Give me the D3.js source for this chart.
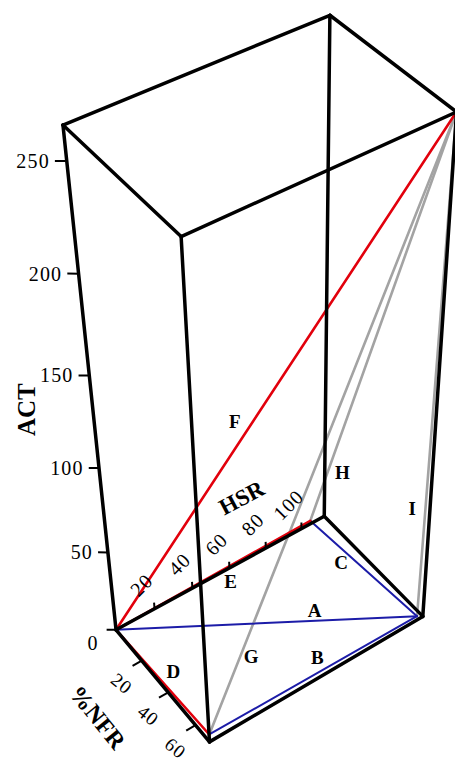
<!DOCTYPE html>
<html>
<head>
<meta charset="utf-8">
<script src="https://cdn.jsdelivr.net/npm/d3@7"></script>
<style>
  body { margin: 0; background: #fff; }
  svg { display: block; }
  text { font-family: "Liberation Serif", "Times New Roman", serif; fill: #000; }
</style>
</head>
<body>
<svg width="455" height="764"></svg>
<script>
// axis ranges and ticks
var hsrDomain = [0, 113];
var nfrDomain = [0, 70];
var actDomain = [0, 265];
var hsrTicks = [20, 40, 60, 80, 100];
var nfrTicks = [20, 40, 60];
var actTicks = [0, 50, 100, 150, 200, 250];

// points of the figure (HSR, %NFR, ACT)
var nodeNames = ['O', 'P', 'Q', 'R', 'S'];
var nodeHSR = [0, 105, 2, 111, 113];
var nodeNFR = [0, 0, 67, 68.5, 70];
var nodeACT = [0, 2, 0, 0, 265];

// segments
var lineNames = ['A', 'B', 'C', 'D', 'E', 'F', 'G', 'H', 'I'];
var lineFrom  = ['O', 'Q', 'P', 'O', 'O', 'O', 'Q', 'P', 'R'];
var lineTo    = ['R', 'R', 'R', 'Q', 'P', 'S', 'S', 'S', 'S'];
var lineGroup = ['blue', 'blue', 'blue', 'red', 'red', 'red', 'gray', 'gray', 'gray'];

// where the letters sit: fraction along the drawn segment, pixel offset
var labelAt = {A: [0.66, 0, -10], B: [0.52, 0, -15], C: [0.29, 0, 14], D: [0.40, 20, 0],
               E: [0.59, 0, 16], F: [0.402, -18, 0], G: [0.125, 11, 0], H: [0.11, 16, -3], I: [0.21, -13, -2]};

var svg = d3.select('svg');

// data -> world box
var xS = d3.scaleLinear().domain(hsrDomain).range([-145, 145]);
var yS = d3.scaleLinear().domain(nfrDomain).range([-93.5, 93.5]);
var zS = d3.scaleLinear().domain(actDomain).range([-350, 350]);

// camera
var beta = 54 * Math.PI / 180, elev = 43.8 * Math.PI / 180;
var hx = Math.cos(beta), hy = -Math.sin(beta);
var rx = Math.sin(beta), ry = Math.cos(beta);
var sinE = Math.sin(elev), cosE = Math.cos(elev);
var focal = 1956, dist = 1956;
var cx = 303, cy = 368.4, rOff = -37.2, uOff = -33.6;

function toWorld(p) { return [xS(p[0]), yS(p[1]), zS(p[2])]; }

function projectWorld(w) {
    var ph = w[0] * hx + w[1] * hy;
    var right = w[0] * rx + w[1] * ry + rOff;
    var up = sinE * ph + cosE * w[2] + uOff;
    var depth = cosE * ph - sinE * w[2];
    var s = focal / (dist + depth);
    return [cx + s * right, cy - s * up];
}
function project(p) { return projectWorld(toWorld(p)); }
function add(a, b) { return [a[0] + b[0], a[1] + b[1], a[2] + b[2]]; }

var nodes = {};
nodeNames.forEach(function (k, i) { nodes[k] = [nodeHSR[i], nodeNFR[i], nodeACT[i]]; });

var lineGen = d3.line();
var color = d3.scaleOrdinal().domain(['gray', 'blue', 'red']).range(['#a3a3a3', '#1c1ca8', '#e2000c']);
var width = {gray: 2.6, blue: 2, red: 2.6};

// colored segments
var segs = lineNames.map(function (n, i) {
    return {name: n, a: nodes[lineFrom[i]], b: nodes[lineTo[i]], group: lineGroup[i]};
});
segs.sort(function (p, q) { return color.domain().indexOf(p.group) - color.domain().indexOf(q.group); });

svg.append('g').selectAll('path').data(segs).enter().append('path')
    .attr('d', function (d) { return lineGen([project(d.a), project(d.b)]); })
    .attr('fill', 'none')
    .attr('stroke', function (d) { return color(d.group); })
    .attr('stroke-width', function (d) { return width[d.group]; })
    .attr('stroke-linecap', 'round');

// box
var corners = [];
hsrDomain.forEach(function (h) { nfrDomain.forEach(function (n) { actDomain.forEach(function (a) { corners.push([h, n, a]); }); }); });
var edges = [];
for (var i = 0; i < corners.length; i++) {
    for (var j = i + 1; j < corners.length; j++) {
        var diff = 0;
        for (var k = 0; k < 3; k++) if (corners[i][k] != corners[j][k]) diff++;
        if (diff == 1) edges.push([corners[i], corners[j]]);
    }
}
svg.append('g').selectAll('path').data(edges).enter().append('path')
    .attr('d', function (d) { return lineGen([project(d[0]), project(d[1])]); })
    .attr('fill', 'none')
    .attr('stroke', '#000')
    .attr('stroke-width', 3.5)
    .attr('stroke-linecap', 'round')
    .attr('stroke-linejoin', 'round');

// ticks
var gAxis = svg.append('g');
function tickLine(base, vec) {
    var w = toWorld(base);
    var p0 = projectWorld(w), p1 = projectWorld(add(w, vec));
    gAxis.append('path').attr('d', lineGen([p0, p1]))
        .attr('stroke', '#000').attr('stroke-width', 2).attr('fill', 'none');
    return [p0, p1];
}

actTicks.forEach(function (v) {
    var t = tickLine([0, 0, v], [-8.5, -6.2, 0]);
    var zero = v == 0;
    gAxis.append('text')
        .attr('x', t[1][0] - (zero ? 8 : 5))
        .attr('y', t[1][1] + (zero ? 13 : 0))
        .attr('text-anchor', 'end')
        .attr('dominant-baseline', 'central')
        .style('font-size', '20px')
        .style('letter-spacing', '1.2px')
        .text(v);
});

hsrTicks.forEach(function (v) {
    var t = tickLine([v, 0, 0], [0, 0, 11]);
    gAxis.append('text')
        .attr('transform', 'translate(' + (t[0][0] - 13) + ',' + (t[0][1] - 24) + ') rotate(-45)')
        .attr('text-anchor', 'middle')
        .attr('dominant-baseline', 'central')
        .style('font-size', '20px')
        .style('letter-spacing', '1.2px')
        .text(v);
});

nfrTicks.forEach(function (v) {
    var t = tickLine([0, v, 0], [-12, 0, 0]);
    gAxis.append('text')
        .attr('transform', 'translate(' + (t[0][0] - 20) + ',' + (t[0][1] + 23) + ') rotate(39)')
        .attr('text-anchor', 'middle')
        .attr('dominant-baseline', 'central')
        .style('font-size', '19px')
        .style('letter-spacing', '1px')
        .text(v);
});

// axis titles
function title(txt, at, dx, dy, rot, size) {
    var p = project(at);
    gAxis.append('text')
        .attr('transform', 'translate(' + (p[0] + dx) + ',' + (p[1] + dy) + ') rotate(' + rot + ')')
        .attr('text-anchor', 'middle')
        .attr('dominant-baseline', 'central')
        .style('font-size', size + 'px')
        .style('font-weight', 'bold')
        .text(txt);
}
title('ACT', [0, 0, 140], -65, 15, -90, 25);
title('HSR', [70, 0, 0], -6, -60, -28, 23);
title('%NFR', [0, 35, 0], -64, 33, 51, 24);

// segment letters, placed along the projected segment
function labelPoint(d) {
    var l = labelAt[d.name], p0 = project(d.a), p1 = project(d.b);
    return [p0[0] + (p1[0] - p0[0]) * l[0] + l[1], p0[1] + (p1[1] - p0[1]) * l[0] + l[2]];
}
svg.append('g').selectAll('text').data(segs).enter().append('text')
    .attr('x', function (d) { return labelPoint(d)[0]; })
    .attr('y', function (d) { return labelPoint(d)[1]; })
    .attr('text-anchor', 'middle')
    .attr('dominant-baseline', 'central')
    .style('font-size', '19px')
    .style('font-weight', 'bold')
    .text(function (d) { return d.name; });
</script>
</body>
</html>
